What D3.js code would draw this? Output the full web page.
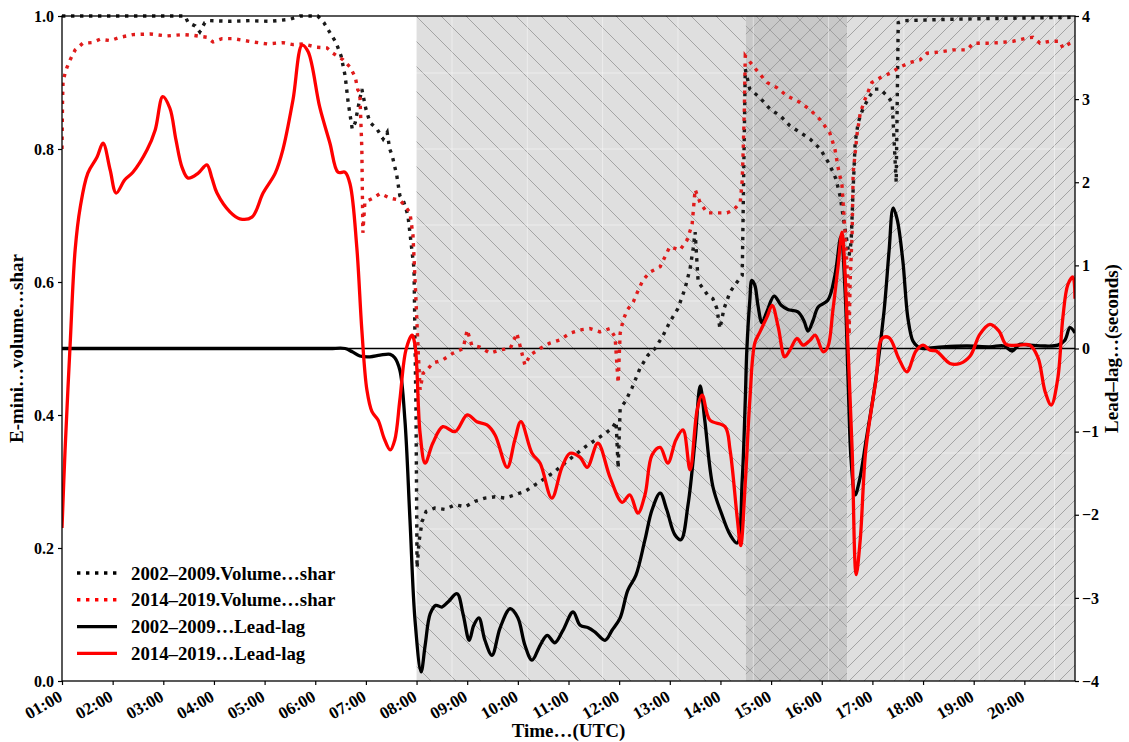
<!DOCTYPE html>
<html>
<head>
<meta charset="utf-8">
<script src="https://cdn.jsdelivr.net/npm/d3@7"></script>
<style>
  body { margin: 0; background: #fff; }
  svg { display: block; }
  text { font-family: "Liberation Serif", "DejaVu Serif", serif; font-weight: bold; fill: #000; }
</style>
</head>
<body>
<svg id="chart" width="1129" height="742"></svg>
<script>
// ---- data: time in decimal UTC hours ----
const hourTicks = [1,2,3,4,5,6,7,8,9,10,11,12,13,14,15,16,17,18,19,20];
const hourLabels = ["01:00","02:00","03:00","04:00","05:00","06:00","07:00","08:00","09:00","10:00",
                    "11:00","12:00","13:00","14:00","15:00","16:00","17:00","18:00","19:00","20:00"];
const shareTicks = [0, 0.2, 0.4, 0.6, 0.8, 1.0];
const lagTicks = [-4, -3, -2, -1, 0, 1, 2, 3, 4];

// trading-session shading (start hour, end hour, hatch kind)
const sessions = [
  { start: 8.0,  end: 14.5, kind: "back" },
  { start: 14.5, end: 16.5, kind: "cross" },
  { start: 16.5, end: 21.0, kind: "fwd" }
];

// E-mini volume share, 2002–2009
const volume0209 = [
  [1.0,1.0],[3.43,1.0],[3.49,0.99],[3.63,0.985],[3.72,0.976],[3.82,0.99],[3.92,0.993],[4.32,0.992],
  [4.71,0.993],[5.11,0.992],[5.5,0.995],[5.7,1.0],[6.05,1.0],[6.17,0.99],[6.29,0.975],[6.41,0.96],
  [6.51,0.94],[6.59,0.91],[6.65,0.87],[6.73,0.83],[6.79,0.84],[6.84,0.86],[6.92,0.89],[7.0,0.86],
  [7.08,0.84],[7.22,0.83],[7.34,0.815],[7.42,0.825],[7.47,0.8],[7.52,0.79],[7.61,0.76],[7.67,0.73],
  [7.75,0.72],[7.83,0.70],[7.89,0.66],[7.95,0.62],[7.99,0.4],[8.01,0.17],[8.05,0.21],[8.11,0.24],
  [8.19,0.255],[8.36,0.26],[8.56,0.258],[8.76,0.265],[8.96,0.262],[9.15,0.27],[9.35,0.275],[9.55,0.277],
  [9.75,0.275],[9.94,0.28],[10.14,0.285],[10.34,0.295],[10.54,0.305],[10.73,0.315],[10.93,0.328],
  [11.13,0.34],[11.33,0.352],[11.52,0.362],[11.72,0.372],[11.86,0.38],[11.94,0.39],[11.98,0.32],
  [12.02,0.41],[12.12,0.42],[12.25,0.44],[12.41,0.47],[12.57,0.49],[12.71,0.5],[12.87,0.52],
  [13.0,0.54],[13.16,0.56],[13.3,0.59],[13.4,0.62],[13.46,0.65],[13.5,0.675],[13.56,0.60],
  [13.66,0.59],[13.75,0.58],[13.85,0.575],[13.93,0.56],[13.99,0.53],[14.07,0.56],[14.19,0.585],
  [14.33,0.6],[14.43,0.61],[14.49,0.92],[14.58,0.89],[14.78,0.877],[14.98,0.86],[15.18,0.85],
  [15.37,0.835],[15.57,0.825],[15.77,0.815],[15.97,0.80],[16.16,0.776],[16.28,0.755],[16.36,0.73],
  [16.42,0.70],[16.48,0.67],[16.54,0.64],[16.58,0.66],[16.62,0.74],[16.66,0.81],[16.72,0.84],
  [16.81,0.86],[16.95,0.88],[17.05,0.89],[17.15,0.89],[17.29,0.88],[17.39,0.87],[17.47,0.75],
  [17.51,0.99],[17.64,0.993],[18.5,0.995],[20.0,0.997],[21.0,0.998]
];

// E-mini volume share, 2014–2019
const volume1419 = [
  [1.0,0.80],[1.01,0.87],[1.02,0.90],[1.06,0.914],[1.1,0.923],[1.16,0.934],[1.26,0.949],[1.41,0.959],
  [1.59,0.96],[1.75,0.965],[1.95,0.963],[2.15,0.968],[2.4,0.972],[2.74,0.973],[3.07,0.97],[3.39,0.972],
  [3.59,0.971],[3.86,0.968],[3.98,0.961],[4.16,0.966],[4.38,0.966],[4.77,0.961],[5.05,0.958],
  [5.36,0.96],[5.56,0.957],[5.76,0.958],[6.03,0.953],[6.23,0.952],[6.35,0.944],[6.55,0.934],
  [6.69,0.923],[6.79,0.908],[6.84,0.889],[6.88,0.885],[6.92,0.8],[6.94,0.674],[6.98,0.72],
  [7.14,0.726],[7.28,0.733],[7.48,0.726],[7.67,0.723],[7.77,0.715],[7.87,0.704],[7.93,0.67],
  [7.99,0.57],[8.03,0.5],[8.07,0.438],[8.13,0.463],[8.21,0.468],[8.32,0.478],[8.52,0.483],
  [8.72,0.493],[8.92,0.5],[9.0,0.528],[9.09,0.505],[9.25,0.502],[9.45,0.493],[9.65,0.498],
  [9.85,0.5],[9.98,0.523],[10.04,0.505],[10.14,0.475],[10.24,0.49],[10.44,0.5],[10.63,0.508],
  [10.83,0.513],[11.03,0.523],[11.23,0.528],[11.42,0.53],[11.62,0.525],[11.82,0.53],[11.92,0.517],
  [11.96,0.47],[11.98,0.448],[12.02,0.523],[12.08,0.543],[12.16,0.558],[12.28,0.57],[12.35,0.583],
  [12.47,0.603],[12.61,0.615],[12.81,0.623],[13.0,0.653],[13.2,0.648],[13.34,0.663],[13.44,0.686],
  [13.5,0.739],[13.6,0.719],[13.74,0.704],[13.93,0.704],[14.13,0.704],[14.25,0.708],[14.39,0.719],
  [14.43,0.753],[14.45,0.80],[14.47,0.854],[14.49,0.94],[14.55,0.934],[14.74,0.916],[14.92,0.90],
  [15.12,0.892],[15.31,0.88],[15.57,0.87],[15.77,0.859],[15.97,0.844],[16.16,0.824],[16.26,0.80],
  [16.32,0.773],[16.4,0.745],[16.46,0.674],[16.52,0.60],[16.54,0.52],[16.56,0.60],[16.6,0.674],
  [16.62,0.764],[16.7,0.824],[16.76,0.854],[16.85,0.874],[16.99,0.90],[17.15,0.907],[17.35,0.914],
  [17.54,0.923],[17.74,0.93],[17.94,0.934],[18.08,0.944],[18.33,0.946],[18.59,0.949],[18.87,0.949],
  [18.99,0.959],[19.26,0.959],[19.52,0.96],[19.78,0.962],[20.05,0.967],[20.17,0.968],[20.31,0.959],
  [20.51,0.962],[20.7,0.962],[20.76,0.952],[20.9,0.959],[21.0,0.962]
];

// lead–lag in seconds, 2002–2009
const leadLag0209 = [
  [1.0,0],[2.0,0],[3.0,0],[4.0,0],[5.0,0],[6.0,0],[6.3,0],[6.59,0],[6.73,-0.04],[6.88,-0.09],
  [7.08,-0.1],[7.28,-0.08],[7.48,-0.07],[7.57,-0.11],
  [7.67,-0.26],[7.77,-0.86],[7.87,-2.06],[7.97,-3.27],[8.09,-3.89],[8.17,-3.57],[8.27,-3.19],
  [8.38,-3.09],[8.5,-3.11],[8.62,-3.05],[8.8,-2.95],[8.92,-3.2],[9.04,-3.51],[9.13,-3.33],[9.23,-3.24],
  [9.35,-3.51],[9.49,-3.69],[9.65,-3.36],[9.85,-3.13],[10.0,-3.24],[10.14,-3.57],[10.28,-3.75],
  [10.44,-3.57],[10.58,-3.45],[10.73,-3.54],[10.89,-3.39],[11.09,-3.17],[11.23,-3.33],[11.39,-3.36],
  [11.52,-3.41],[11.72,-3.51],[11.86,-3.39],[12.02,-3.24],[12.17,-2.91],[12.33,-2.73],[12.51,-2.3],
  [12.65,-1.94],[12.81,-1.74],[12.94,-1.94],[13.1,-2.24],[13.22,-2.3],[13.36,-1.88],[13.5,-1.1],
  [13.6,-0.45],[13.69,-0.86],[13.85,-1.66],[14.03,-2.0],[14.19,-2.24],[14.33,-2.34],[14.43,-1.58],
  [14.49,-0.62],[14.52,-0.03],[14.58,0.58],[14.62,0.82],[14.68,0.76],[14.74,0.52],[14.82,0.31],
  [14.92,0.45],[15.06,0.63],[15.2,0.52],[15.33,0.47],[15.53,0.44],[15.65,0.33],[15.73,0.21],
  [15.83,0.34],[15.93,0.5],[16.12,0.58],[16.26,0.88],[16.38,1.35],[16.46,0.7],[16.52,-0.38],
  [16.58,-1.35],[16.66,-1.76],[16.74,-1.6],[16.88,-1.09],[17.07,-0.36],[17.23,0.45],[17.33,1.18],
  [17.41,1.69],[17.49,1.55],[17.6,1.06],[17.7,0.37],[17.8,0.09],[17.9,0.02],[18.0,0],[18.39,0.02],
  [18.87,0.03],[19.32,0.02],[19.6,0.03],[19.76,-0.03],[19.91,0.05],[20.11,0.04],[20.41,0.03],
  [20.66,0.04],[20.8,0.1],[20.9,0.25],[21.0,0.19]
];

// lead–lag in seconds, 2014–2019
const leadLag1419 = [
  [1.0,-2.16],[1.06,-1.23],[1.16,0.04],[1.26,1.19],[1.36,1.7],[1.51,2.11],[1.69,2.3],[1.81,2.47],
  [1.95,2.15],[2.07,1.87],[2.24,2.03],[2.4,2.12],[2.68,2.39],[2.84,2.63],[2.99,3.03],[3.13,2.89],
  [3.25,2.51],[3.37,2.18],[3.49,2.05],[3.69,2.11],[3.86,2.21],[3.96,2.05],[4.06,1.87],[4.32,1.64],
  [4.51,1.56],[4.75,1.58],[4.97,1.87],[5.21,2.11],[5.36,2.39],[5.56,2.99],[5.74,3.65],[5.86,3.57],
  [6.09,2.9],[6.29,2.47],[6.45,2.12],[6.59,2.12],[6.69,1.97],[6.82,1.22],[6.92,0.22],[7.02,-0.5],
  [7.12,-0.76],[7.24,-0.86],[7.36,-1.08],[7.48,-1.22],[7.57,-1.1],[7.67,-0.62],[7.79,-0.02],
  [7.91,0.16],[7.97,0.04],[8.07,-1.02],[8.17,-1.38],[8.32,-1.14],[8.52,-0.94],[8.76,-1.0],[9.0,-0.8],
  [9.19,-0.88],[9.39,-0.92],[9.55,-1.04],[9.79,-1.43],[9.94,-1.1],[10.06,-0.88],[10.28,-1.26],
  [10.44,-1.38],[10.67,-1.8],[10.87,-1.43],[11.03,-1.26],[11.23,-1.31],[11.37,-1.43],[11.58,-1.14],
  [11.82,-1.55],[12.06,-1.85],[12.21,-1.76],[12.37,-1.98],[12.51,-1.76],[12.65,-1.28],[12.81,-1.19],
  [12.96,-1.38],[13.12,-1.1],[13.26,-0.98],[13.4,-1.46],[13.54,-0.74],[13.64,-0.56],[13.79,-0.86],
  [14.09,-0.94],[14.19,-1.22],[14.33,-2.03],[14.4,-2.37],[14.49,-1.62],[14.58,-0.62],[14.68,0.07],
  [14.78,0.2],[14.92,0.38],[15.02,0.52],[15.14,0.26],[15.27,-0.1],[15.37,-0.02],[15.51,0.12],
  [15.63,0.04],[15.77,0.1],[15.87,0.16],[16.03,-0.04],[16.12,0.02],[16.22,0.46],[16.32,0.98],
  [16.4,1.4],[16.46,0.9],[16.52,0.0],[16.6,-1.22],[16.68,-2.72],[16.76,-2.3],[16.87,-1.22],
  [17.07,-0.38],[17.19,0.12],[17.33,0.13],[17.52,-0.12],[17.68,-0.28],[17.86,-0.03],[18.0,0.04],
  [18.14,-0.02],[18.26,-0.03],[18.53,-0.18],[18.73,-0.18],[18.93,-0.09],[19.12,0.17],[19.32,0.29],
  [19.5,0.21],[19.64,0.05],[19.87,0.04],[20.11,0.04],[20.27,-0.11],[20.41,-0.52],[20.53,-0.68],
  [20.66,-0.36],[20.76,0.37],[20.86,0.77],[20.96,0.86],[21.0,0.6]
];

const legendItems = [
  { label: "2002–2009.Volume…shar", color: "#000", dotted: true },
  { label: "2014–2019.Volume…shar", color: "#ff0000", dotted: true },
  { label: "2002–2009…Lead-lag", color: "#000", dotted: false },
  { label: "2014–2019…Lead-lag", color: "#ff0000", dotted: false }
];

// ---- layout ----
const svg = d3.select("#chart");
const L = 62, R = 1075, T = 16, B = 681;

const x = d3.scaleLinear().domain([1, 21]).range([L, R]);
const yShare = d3.scaleLinear().domain([0, 1]).range([B, T]);
const yLag = d3.scaleLinear().domain([-4, 4]).range([B, T]);

// hatch patterns
const defs = svg.append("defs");
function hatch(id, bg, size, dirs) {
  const p = defs.append("pattern").attr("id", id)
    .attr("patternUnits", "userSpaceOnUse").attr("width", size).attr("height", size);
  p.append("rect").attr("width", size).attr("height", size).attr("fill", bg);
  const s = size;
  dirs.forEach(d => {
    const path = d === "back"
      ? `M0,0L${s},${s}M${-s/2},${s/2}L${s/2},${s*1.5}M${s/2},${-s/2}L${s*1.5},${s/2}`
      : `M0,${s}L${s},0M${-s/2},${s/2}L${s/2},${-s/2}M${s/2},${s*1.5}L${s*1.5},${s/2}`;
    p.append("path").attr("d", path).attr("stroke", "#9c9c9c").attr("stroke-width", 0.9).attr("fill", "none");
  });
}
hatch("hatch-back", "#dfdfdf", 25, ["back"]);
hatch("hatch-cross", "#c8c8c8", 20, ["back", "fwd"]);
hatch("hatch-fwd", "#dfdfdf", 15, ["fwd"]);

const plot = svg.append("g");
plot.selectAll("rect.session").data(sessions).join("rect")
  .attr("class", "session")
  .attr("x", d => x(d.start)).attr("width", d => x(d.end) - x(d.start))
  .attr("y", T).attr("height", B - T)
  .attr("fill", d => `url(#hatch-${d.kind})`);

// faint grid over the shaded sessions
const gridHours = d3.range(8.7, 21, 1.487);
const gridShares = d3.range(1, 9).map(k => k * 0.8 / 7);
plot.selectAll("line.gx").data(gridHours).join("line")
  .attr("x1", d => x(d)).attr("x2", d => x(d)).attr("y1", T).attr("y2", B)
  .attr("stroke", "#fff").attr("stroke-opacity", 0.45).attr("stroke-width", 1);
plot.selectAll("line.gy").data(gridShares).join("line")
  .attr("x1", L).attr("x2", R).attr("y1", d => yShare(d)).attr("y2", d => yShare(d))
  .attr("stroke", "#fff").attr("stroke-opacity", 0.45).attr("stroke-width", 1);

// zero lead–lag reference
plot.append("line").attr("x1", L).attr("x2", R)
  .attr("y1", yLag(0)).attr("y2", yLag(0)).attr("stroke", "#000").attr("stroke-width", 1.3);

const clip = defs.append("clipPath").attr("id", "plot-clip");
clip.append("rect").attr("x", L).attr("y", T - 2).attr("width", R - L).attr("height", B - T + 4);

const shareLine = d3.line().x(d => x(d[0])).y(d => yShare(d[1]));
const lagLine = d3.line().x(d => x(d[0])).y(d => yLag(d[1])).curve(d3.curveCatmullRom.alpha(0.5));

const series = plot.append("g").attr("clip-path", "url(#plot-clip)");
[[volume0209, "#1a1a1a"], [volume1419, "#e01b1b"]].forEach(([data, c]) => {
  series.append("path").attr("d", shareLine(data)).attr("fill", "none")
    .attr("stroke", c).attr("stroke-width", 3.4).attr("stroke-dasharray", "3.4,5.6");
});
[[leadLag0209, "#000"], [leadLag1419, "#ff0000"]].forEach(([data, c]) => {
  series.append("path").attr("d", lagLine(data)).attr("fill", "none")
    .attr("stroke", c).attr("stroke-width", 3.3).attr("stroke-linejoin", "round");
});

// frame
svg.append("rect").attr("x", L).attr("y", T).attr("width", R - L).attr("height", B - T)
  .attr("fill", "none").attr("stroke", "#000").attr("stroke-width", 1.3);

// axes
const axL = svg.append("g").attr("transform", `translate(${L},0)`)
  .call(d3.axisLeft(yShare).tickValues(shareTicks).tickFormat(d3.format(".1f")).tickSize(4).tickPadding(4));
const axR = svg.append("g").attr("transform", `translate(${R},0)`)
  .call(d3.axisRight(yLag).tickValues(lagTicks).tickFormat(d => d < 0 ? "−" + Math.abs(d) : String(d)).tickSize(4).tickPadding(3));
const axB = svg.append("g").attr("transform", `translate(0,${B})`)
  .call(d3.axisBottom(x).tickValues(hourTicks).tickFormat((d, i) => hourLabels[i]).tickSize(4));
[axL, axR, axB].forEach(a => {
  a.select(".domain").remove();
  a.selectAll(".tick line").attr("stroke", "#000").attr("stroke-width", 1.2);
  a.selectAll("text").attr("font-size", 16).style("font-family", '"Liberation Serif", serif').style("font-weight", "bold");
});
axB.selectAll(".tick text")
  .attr("font-size", 17)
  .attr("text-anchor", "end").attr("dy", null).attr("y", 0)
  .attr("transform", "translate(1,19) rotate(-30)");

// axis titles
svg.append("text").attr("x", x(11)).attr("y", 737).attr("text-anchor", "middle")
  .attr("font-size", 19).text("Time…(UTC)");
svg.append("text").attr("transform", `translate(23,${(T + B) / 2}) rotate(-90)`)
  .attr("text-anchor", "middle").attr("font-size", 19).text("E-mini…volume…shar");
svg.append("text").attr("transform", `translate(1118,${(T + B) / 2}) rotate(-90)`)
  .attr("text-anchor", "middle").attr("font-size", 19).text("Lead–lag…(seconds)");

// legend
const lg = svg.append("g").attr("transform", "translate(77,573)");
legendItems.forEach((d, i) => {
  const g = lg.append("g").attr("transform", `translate(0,${i * 26.8})`);
  g.append("line").attr("x1", 0).attr("x2", 40).attr("y1", 0).attr("y2", 0)
    .attr("stroke", d.color).attr("stroke-width", d.dotted ? 3.4 : 3.3)
    .attr("stroke-dasharray", d.dotted ? "3.4,5.6" : null);
  g.append("text").attr("x", 54).attr("y", 6.5).attr("font-size", 18.8).text(d.label);
});
</script>
</body>
</html>
